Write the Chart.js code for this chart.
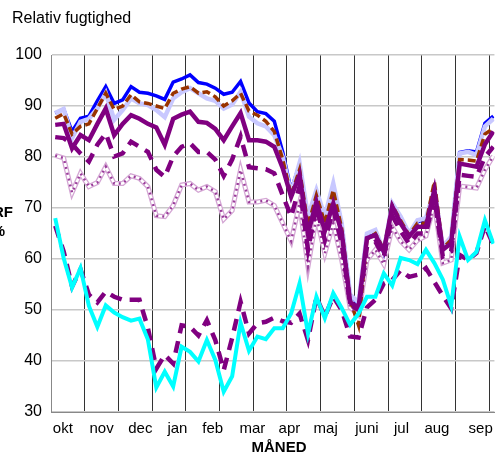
<!DOCTYPE html>
<html lang="da">
<head>
  <meta charset="UTF-8">
  <script src="https://cdn.jsdelivr.net/npm/chart.js"></script>
  <title>Relativ fugtighed</title>
  <style>
    body{margin:0; background:#fff;}
    #wrap{width:501px; height:456px;}
  </style>
</head>
<body>
  <div id="wrap"><canvas id="myChart" width="501" height="456"></canvas></div>
  <script>
    // ugenumre (53 uger okt-sep) og maanedsetiketter
    const weeks = [0,1,2,3,4,5,6,7,8,9,10,11,12,13,14,15,16,17,18,19,20,21,22,23,24,25,26,
                   27,28,29,30,31,32,33,34,35,36,37,38,39,40,41,42,43,44,45,46,47,48,49,50,51,52];
    const months = ['okt','nov','dec','jan','feb','mar','apr','maj','juni','jul','aug','sep'];
    const monthPos = [0.9,5.5,10.1,14.5,18.7,23.4,27.8,32.1,37.0,41.1,45.3,50.5];
    const gridPos = [-0.5,3.5,7.5,11.5,15.5,19.5,23.5,27.5,31.5,35.5,39.5,43.5,47.5,51.5];
    const yTicks = [30,40,50,60,70,80,90,100];

    const maxRF = [88.6,89.4,85.0,87.6,88.0,91.0,93.8,90.5,91.2,93.8,92.7,92.5,92.0,91.3,94.7,95.3,96.1,94.6,94.3,93.5,
                   92.3,92.7,94.8,90.6,88.9,88.5,87.0,81.0,73.5,78.5,68.0,73.2,68.0,74.5,66.8,52.8,51.2,64.8,65.5,61.2,
                   70.6,68.0,64.8,67.3,67.8,73.3,62.2,64.2,80.9,81.2,81.0,86.6,88.0];
    const lavRF = [88.6,89.4,83.7,86.9,87.5,89.5,92.5,87.3,89.2,91.5,90.5,90.2,89.2,87.8,91.5,92.7,93.5,92.5,91.5,91.0,
                   89.5,90.3,92.8,87.9,86.6,86.0,84.3,80.0,72.9,78.8,68.3,73.5,68.3,74.8,67.0,53.0,51.5,65.0,65.7,61.5,
                   70.9,68.3,65.0,67.6,68.0,73.5,62.4,64.4,80.7,81.0,80.4,86.0,87.5];
    const brownRF = [87.6,88.5,84.5,86.0,86.5,89.5,92.5,89.3,90.0,92.2,90.8,90.5,90.0,89.5,92.5,93.3,93.8,92.5,92.8,91.8,
                     90.0,91.0,92.5,89.0,88.2,87.0,85.0,79.5,72.5,77.5,66.5,72.5,67.0,73.5,66.0,52.0,47.0,63.8,65.0,61.8,
                     70.5,67.5,64.7,67.0,67.0,75.2,62.0,63.8,79.5,79.4,79.2,84.5,85.6];
    const purpleRF = [86.3,86.5,81.7,84.3,83.3,86.5,89.5,84.3,86.5,88.2,87.5,86.5,85.8,82.4,87.5,88.3,88.9,86.9,86.7,85.5,
                      83.3,86.0,88.6,83.3,83.3,83.0,82.0,77.8,72.2,76.5,65.0,71.2,65.5,70.9,65.2,51.5,50.5,64.1,64.7,61.5,
                      70.3,67.0,64.4,66.3,66.3,73.5,61.8,63.1,78.7,78.4,78.1,82.5,85.0];
    const dashRF = [83.9,83.7,82.5,80.7,79.1,82.4,84.6,80.1,80.7,83.0,82.0,81.0,77.5,76.1,80.1,82.0,82.7,81.0,81.0,79.5,
                    76.3,79.5,84.0,78.0,77.8,77.6,76.8,72.5,68.3,74.2,61.8,70.3,63.7,69.6,63.1,51.0,50.0,62.4,63.4,60.4,
                    68.5,65.5,63.0,65.0,65.0,72.0,60.5,61.5,76.5,76.3,76.1,80.0,82.0];
    const dotRF = [80.3,79.8,73.0,76.8,74.2,75.0,78.1,74.8,74.8,76.3,75.8,74.2,68.5,68.3,70.5,74.5,74.8,73.5,74.2,73.2,
                   67.8,69.5,77.5,71.2,71.2,71.5,70.5,67.0,63.5,70.9,58.5,68.3,61.1,67.0,59.8,50.5,49.0,59.8,61.8,59.0,
                   66.3,63.5,61.8,63.7,64.5,70.9,59.2,59.8,74.3,74.1,73.9,77.5,80.2];
    const lowDashRF = [66.5,61.5,54.6,58.0,53.0,51.5,53.6,52.6,52.0,52.0,52.0,46.5,38.5,41.2,39.5,47.0,46.7,45.0,48.0,44.1,
                       38.2,44.5,51.6,45.4,47.4,47.7,48.5,47.8,47.5,49.3,44.1,52.5,48.7,52.6,50.0,44.8,44.6,50.5,52.0,55.2,
                       55.9,57.8,56.5,56.9,58.2,55.5,52.8,50.3,60.8,59.8,61.2,66.5,62.8];
    const minRF = [68.0,60.2,54.4,58.2,50.8,46.7,50.9,49.5,48.6,47.9,48.3,44.2,34.8,37.9,35.0,42.8,41.8,39.9,44.1,40.2,
                   34.0,37.0,47.5,42.0,44.8,44.3,46.4,46.4,49.3,55.2,45.4,52.6,48.4,53.3,50.4,47.1,49.3,52.6,52.6,57.2,
                   54.8,60.2,59.8,59.0,61.8,59.2,56.0,50.8,64.4,59.8,61.4,67.6,63.0];

    Chart.defaults.font.family = '"Liberation Sans", Arial, sans-serif';
    Chart.defaults.color = '#000';

    function line(data, color, width, order, dash){
      return {data: data, borderColor: color, borderWidth: width, order: order,
              borderDash: dash || [], pointRadius: 0, tension: 0, fill: false};
    }

    const textPlugin = {
      id: 'texts',
      afterDraw(chart){
        const c = chart.ctx;
        c.save();
        c.fillStyle = '#000';
        c.font = '16px "Liberation Sans", Arial';
        c.textAlign = 'left';
        c.fillText('Relativ fugtighed', 12, 23);
        c.font = 'bold 15px "Liberation Sans", Arial';
        c.textAlign = 'right';
        c.fillText('RF', 13, 217);
        c.fillText('%', 5, 236);
        c.textAlign = 'center';
        c.fillText('MÅNED', 279, 452);
        c.restore();
      }
    };

    new Chart(document.getElementById('myChart'), {
      type: 'line',
      data: {
        labels: weeks,
        datasets: [
          line(dotRF, '#d4a6d4', 5, 20),
          line(dotRF, '#ffffff', 2.5, 19),
          line(dotRF, '#9a3c9a', 2.5, 18, [2, 4]),
          line(maxRF, '#0000ff', 3.5, 15),
          line(lavRF, '#c8c8ff', 4.5, 14),
          line(brownRF, '#993300', 3.5, 13, [8, 4]),
          line(dashRF, '#800080', 4.5, 12, [12, 8]),
          line(purpleRF, '#800080', 4.5, 11),
          line(lowDashRF, '#800080', 4.5, 7, [12, 8]),
          line(minRF, '#00ffff', 4, 6)
        ]
      },
      options: {
        responsive: false,
        animation: false,
        layout: {padding: {top: 55, left: 0, right: 0, bottom: 0}},
        plugins: {legend: {display: false}, tooltip: {enabled: false}},
        scales: {
          x: {
            type: 'linear', position: 'bottom', min: -0.5, max: 52.13,
            afterBuildTicks: s => { s.ticks = gridPos.map(v => ({value: v})); },
            ticks: {display: false},
            grid: {color: '#333', lineWidth: 1, drawTicks: false},
            border: {color: '#888'},
            afterFit: s => { s.height = 0; }
          },
          xm: {
            type: 'linear', position: 'bottom', min: -0.5, max: 52.13,
            afterBuildTicks: s => { s.ticks = monthPos.map(v => ({value: v})); },
            ticks: {autoSkip: false, maxRotation: 0, font: {size: 15}, padding: 8,
                    callback: (v, i) => months[i]},
            grid: {display: false, drawTicks: false},
            border: {display: false},
            afterFit: s => { s.height = 44; }
          },
          y: {
            min: 30, max: 100,
            afterBuildTicks: s => { s.ticks = yTicks.map(v => ({value: v})); },
            ticks: {font: {size: 16}, padding: 9},
            grid: {color: '#c8c8c8', lineWidth: 1.5, drawTicks: false},
            border: {color: '#888'},
            afterFit: s => { s.width = 51; }
          }
        }
      },
      plugins: [textPlugin]
    });
  </script>
</body>
</html>
